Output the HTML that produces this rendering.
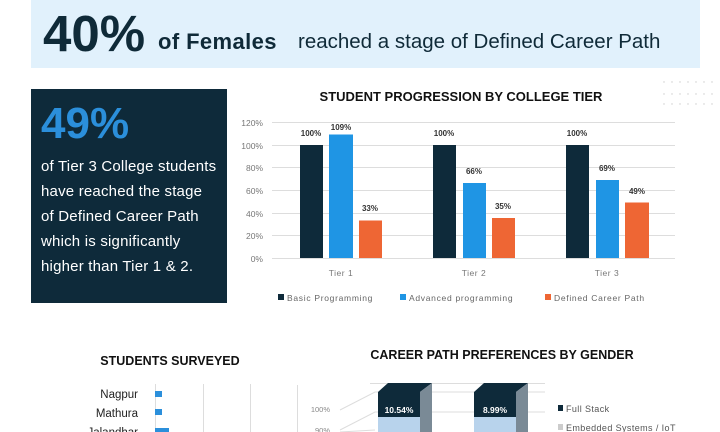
<!DOCTYPE html>
<html><head><meta charset="utf-8"><style>
body{margin:0;width:720px;height:432px;overflow:hidden;background:#fff;font-family:"Liberation Sans",sans-serif;position:relative}
.a{position:absolute;white-space:nowrap}
</style></head><body>
<div class="a" style="left:31px;top:0;width:669px;height:68px;background:#e1f1fc"></div>
<div class="a" style="left:43px;top:4px;font-size:51px;font-weight:bold;color:#0f2a38;letter-spacing:0px">40%</div>
<div class="a" style="left:158px;top:29px;font-size:22px;font-weight:bold;color:#0f2a38;letter-spacing:0.4px">of Females</div>
<div class="a" style="left:298px;top:30px;font-size:20.5px;color:#0f2a38;letter-spacing:0px">reached a stage of Defined Career Path</div>

<div class="a" style="left:31px;top:89px;width:196px;height:214px;background:#0e2a3a"></div>
<div class="a" style="left:41px;top:99px;font-size:44px;font-weight:bold;color:#2b8fdb">49%</div>
<div class="a" style="left:41px;top:154px;font-size:15px;line-height:25px;color:#fff;letter-spacing:0.2px">of Tier 3 College students<br>have reached the stage<br>of Defined Career Path<br>which is significantly<br>higher than Tier 1 &amp; 2.</div>

<svg class="a" style="left:0;top:0" width="720" height="432" font-family="Liberation Sans, sans-serif">
<g fill="#ccc">
<circle cx="664" cy="82" r=".7"/><circle cx="672" cy="82" r=".7"/><circle cx="680" cy="82" r=".7"/><circle cx="688" cy="82" r=".7"/><circle cx="696" cy="82" r=".7"/><circle cx="704" cy="82" r=".7"/><circle cx="712" cy="82" r=".7"/>
<circle cx="664" cy="94" r=".7"/><circle cx="672" cy="94" r=".7"/><circle cx="680" cy="94" r=".7"/><circle cx="688" cy="94" r=".7"/><circle cx="696" cy="94" r=".7"/><circle cx="704" cy="94" r=".7"/><circle cx="712" cy="94" r=".7"/>
<circle cx="664" cy="104" r=".7"/><circle cx="672" cy="104" r=".7"/><circle cx="680" cy="104" r=".7"/><circle cx="688" cy="104" r=".7"/><circle cx="696" cy="104" r=".7"/><circle cx="704" cy="104" r=".7"/><circle cx="712" cy="104" r=".7"/>
</g>
<text x="461" y="101" text-anchor="middle" font-size="13" font-weight="bold" fill="#111">STUDENT PROGRESSION BY COLLEGE TIER</text>
<g stroke="#ddd" stroke-width="1">
<line x1="272" x2="675" y1="122.5" y2="122.5"/><line x1="272" x2="675" y1="145.5" y2="145.5"/><line x1="272" x2="675" y1="167.5" y2="167.5"/><line x1="272" x2="675" y1="190.5" y2="190.5"/><line x1="272" x2="675" y1="213.5" y2="213.5"/><line x1="272" x2="675" y1="235.5" y2="235.5"/><line x1="272" x2="675" y1="258.5" y2="258.5"/>
</g>
<g font-size="8.5" fill="#777" text-anchor="end">
<text x="263" y="126">120%</text><text x="263" y="149">100%</text><text x="263" y="171">80%</text><text x="263" y="194">60%</text><text x="263" y="217">40%</text><text x="263" y="239">20%</text><text x="263" y="262">0%</text>
</g>
<g fill="#0e2a3a"><rect x="300" y="145" width="23" height="113"/><rect x="433" y="145" width="23" height="113"/><rect x="566" y="145" width="23" height="113"/></g>
<g fill="#1f95e4"><rect x="329" y="134.5" width="24" height="123.5"/><rect x="463" y="183" width="23" height="75"/><rect x="596" y="180" width="23" height="78"/></g>
<g fill="#ee6634"><rect x="359" y="220.5" width="23" height="37.5"/><rect x="492" y="218" width="23" height="40"/><rect x="625" y="202.5" width="24" height="55.5"/></g>
<g font-size="8" font-weight="bold" fill="#333" text-anchor="middle">
<text x="311" y="136">100%</text><text x="341" y="130">109%</text><text x="370" y="211">33%</text>
<text x="444" y="136">100%</text><text x="474" y="174">66%</text><text x="503" y="209">35%</text>
<text x="577" y="136">100%</text><text x="607" y="171">69%</text><text x="637" y="194">49%</text>
</g>
<g font-size="8.5" fill="#777" text-anchor="middle" letter-spacing="0.5"><text x="341" y="276">Tier 1</text><text x="474" y="276">Tier 2</text><text x="607" y="276">Tier 3</text></g>
<g font-size="8.5" fill="#666" letter-spacing="0.7">
<rect x="278" y="294" width="6" height="6" fill="#0e2a3a"/><text x="287" y="301">Basic Programming</text>
<rect x="400" y="294" width="6" height="6" fill="#1f95e4"/><text x="409" y="301">Advanced programming</text>
<rect x="545" y="294" width="6" height="6" fill="#ee6634"/><text x="554" y="301">Defined Career Path</text>
</g>

<text x="170" y="365" text-anchor="middle" font-size="12.5" font-weight="bold" fill="#111">STUDENTS SURVEYED</text>
<g stroke="#ddd"><line x1="155.5" x2="155.5" y1="384" y2="432"/><line x1="203.5" x2="203.5" y1="384" y2="432"/><line x1="250.5" x2="250.5" y1="384" y2="432"/></g>
<g font-size="11.5" fill="#222" text-anchor="end"><text x="138" y="398">Nagpur</text><text x="138" y="417">Mathura</text><text x="138" y="436">Jalandhar</text></g>
<g fill="#2b8fdb"><rect x="155" y="391" width="7" height="6"/><rect x="155" y="409" width="7" height="6"/><rect x="155" y="428" width="14" height="6"/></g>

<text x="502" y="359" text-anchor="middle" font-size="12.5" font-weight="bold" fill="#111">CAREER PATH PREFERENCES BY GENDER</text>
<line x1="297.5" x2="297.5" y1="385" y2="432" stroke="#ddd"/>
<g stroke="#ddd" fill="none"><line x1="370" y1="383.5" x2="545" y2="383.5"/><path d="M340 410 L375 392 L545 392"/><path d="M340 430 L375 412 L545 412"/><path d="M340 432 L375 430"/></g>
<g font-size="7.5" fill="#888" text-anchor="end"><text x="330" y="412">100%</text><text x="330" y="433">90%</text></g>
<g><polygon points="378,392 388,383 432,383 420,392" fill="#0e2a3a"/><rect x="378" y="392" width="42" height="25" fill="#0e2a3a"/><polygon points="420,392 432,383 432,432 420,432" fill="#7a8a96"/><rect x="378" y="417" width="42" height="15" fill="#b8d3ec"/>
<text x="399" y="413" text-anchor="middle" font-size="8.5" font-weight="bold" fill="#fff">10.54%</text></g>
<g><polygon points="474,392 484,383 528,383 516,392" fill="#0e2a3a"/><rect x="474" y="392" width="42" height="25" fill="#0e2a3a"/><polygon points="516,392 528,383 528,432 516,432" fill="#7a8a96"/><rect x="474" y="417" width="42" height="15" fill="#b8d3ec"/>
<text x="495" y="413" text-anchor="middle" font-size="8.5" font-weight="bold" fill="#fff">8.99%</text></g>
<rect x="558" y="405" width="5" height="6" fill="#0e2a3a"/><text x="566" y="412" font-size="9" fill="#555" letter-spacing="0.4">Full Stack</text>
<rect x="558" y="424" width="5" height="6" fill="#ccc"/><text x="566" y="431" font-size="9" fill="#555" letter-spacing="0.4">Embedded Systems / IoT</text>
</svg>
</body></html>
